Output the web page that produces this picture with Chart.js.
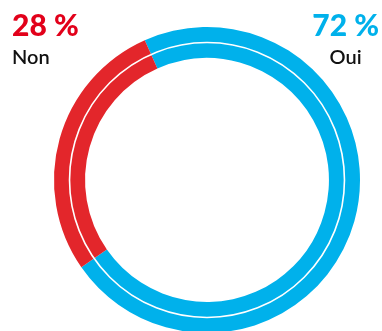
<!DOCTYPE html>
<html>
<head>
<meta charset="utf-8">
<script src="https://cdn.jsdelivr.net/npm/chart.js@4"></script>
<style>
  html, body { margin: 0; padding: 0; background: #fff; overflow: hidden; }
  #wrap { position: relative; width: 382px; height: 340px; }
</style>
</head>
<body>
<div id="wrap"><canvas id="c"></canvas></div>
<script>
// Survey answers
const labels = ['Oui', 'Non'];
const values = [72, 28];
const colors = ['#00b1eb', '#e3262b'];
const textColors = ['#00b1eb', '#e2001a'];

// Thin white ring through the middle of the doughnut
const midRing = {
  id: 'midRing',
  afterDatasetsDraw(chart) {
    const arc = chart.getDatasetMeta(0).data[0];
    if (!arc) return;
    const ctx = chart.ctx;
    const r = (arc.outerRadius + arc.innerRadius) / 2;
    ctx.save();
    ctx.beginPath();
    ctx.arc(arc.x, arc.y, r, 0, Math.PI * 2);
    ctx.strokeStyle = '#ffffff';
    ctx.lineWidth = 1.6;
    ctx.stroke();
    ctx.restore();
  }
};

// Percentage + answer labels in the top corners
const pctFont = '900 30px Lato';
const nameFont = '600 20px Lato';
const cornerLabels = {
  id: 'cornerLabels',
  afterDraw(chart) {
    const ctx = chart.ctx;
    ctx.save();
    ctx.textBaseline = 'alphabetic';
    // Non, top left
    ctx.font = pctFont;
    ctx.fillStyle = textColors[1];
    ctx.textAlign = 'left';
    ctx.fillText(values[1] + ' %', 12, 36);
    ctx.font = nameFont;
    ctx.fillStyle = '#111';
    ctx.fillText(labels[1], 12, 64);
    // Oui, top right
    ctx.font = pctFont;
    ctx.fillStyle = textColors[0];
    ctx.textAlign = 'center';
    const pct = values[0] + ' %';
    const w = ctx.measureText(pct).width;
    const cx = 379 - w / 2;
    ctx.fillText(pct, cx, 36);
    ctx.font = nameFont;
    ctx.fillStyle = '#111';
    ctx.fillText(labels[0], cx, 64);
    ctx.restore();
  }
};

new Chart(document.getElementById('c'), {
  type: 'doughnut',
  data: {
    labels: labels,
    datasets: [{
      data: values,
      backgroundColor: colors,
      borderWidth: 0,
      hoverOffset: 0
    }]
  },
  options: {
    responsive: true,
    maintainAspectRatio: false,
    animation: false,
    rotation: -24,
    cutout: '79.7%',
    layout: { padding: { left: 54, right: 22, top: 27, bottom: 7 } },
    plugins: {
      legend: { display: false },
      tooltip: { enabled: false }
    }
  },
  plugins: [midRing, cornerLabels]
});
</script>
</body>
</html>
